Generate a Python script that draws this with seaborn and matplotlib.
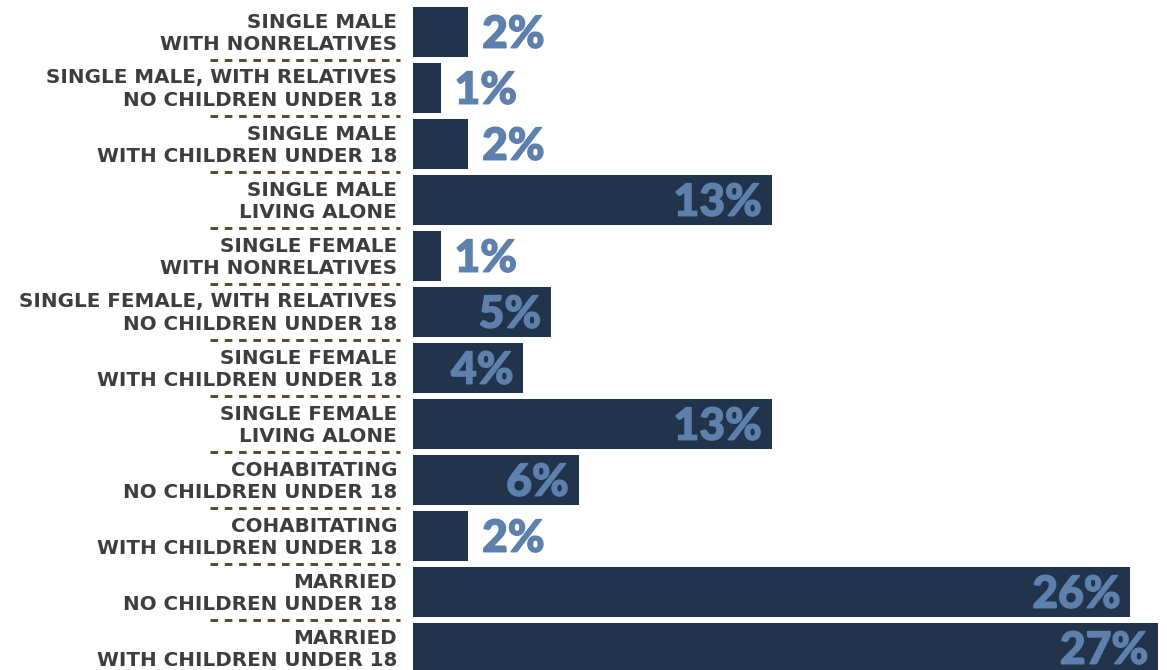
import matplotlib
matplotlib.use("Agg")
import matplotlib.pyplot as plt
import matplotlib.transforms as mtransforms
import matplotlib.patheffects as pe
import seaborn as sns
import pandas as pd

categories = [
    "SINGLE MALE\nWITH NONRELATIVES",
    "SINGLE MALE, WITH RELATIVES\nNO CHILDREN UNDER 18",
    "SINGLE MALE\nWITH CHILDREN UNDER 18",
    "SINGLE MALE\nLIVING ALONE",
    "SINGLE FEMALE\nWITH NONRELATIVES",
    "SINGLE FEMALE, WITH RELATIVES\nNO CHILDREN UNDER 18",
    "SINGLE FEMALE\nWITH CHILDREN UNDER 18",
    "SINGLE FEMALE\nLIVING ALONE",
    "COHABITATING\nNO CHILDREN UNDER 18",
    "COHABITATING\nWITH CHILDREN UNDER 18",
    "MARRIED\nNO CHILDREN UNDER 18",
    "MARRIED\nWITH CHILDREN UNDER 18",
]
values = [2, 1, 2, 13, 1, 5, 4, 13, 6, 2, 26, 27]

BAR = "#21344b"
VAL = "#5e80ad"
TXT = "#3d3d3d"
DASH = "#5b4531"

df = pd.DataFrame({"category": categories, "value": values})

sns.set_theme(style="white")
W, H = 1167, 670
fig = plt.figure(figsize=(W / 100, H / 100), dpi=100)
left_px, right_px = 413, 1158
ax = fig.add_axes([left_px / W, 0, (right_px - left_px) / W, 1])

sns.barplot(data=df, x="value", y="category", orient="h", color=BAR,
            saturation=1, width=50 / 56, ax=ax, edgecolor="none")

ax.set_xlim(0, 27)
ax.set_ylim((H - 32) / 56, -32 / 56)
ax.set_xlabel("")
ax.set_ylabel("")
ax.set_xticks([])
for s in ax.spines.values():
    s.set_visible(False)
ax.tick_params(axis="y", length=0, pad=11.5)
ax.set_yticks(range(len(categories)))
ax.set_yticklabels(categories, fontsize=14.3, fontweight="bold", color=TXT,
                   family="DejaVu Sans", linespacing=1.2)
shift = mtransforms.ScaledTranslation(0, 2.5 / 100, fig.dpi_scale_trans)
for lab in ax.get_yticklabels():
    lab.set_transform(lab.get_transform() + shift)

# dashed separators
blend = mtransforms.blended_transform_factory(fig.transFigure, ax.transData)
for i in range(len(categories) - 1):
    ax.plot([210 / W, 400 / W], [i + 0.5, i + 0.5], transform=blend,
            color=DASH, lw=2.1, dashes=(2.6, 2.3), clip_on=False)

# value labels
heavy = [pe.withStroke(linewidth=1.0, foreground=VAL)]
for i, v in enumerate(values):
    if v >= 4:
        off, ha = (-7, -2), "right"
    else:
        off, ha = (10, -2), "left"
    ax.annotate(f"{v}%", xy=(v, i), xytext=off, textcoords="offset points",
                ha=ha, va="center", fontsize=32, fontweight="black",
                color=VAL, family="Lato", path_effects=heavy)

fig.savefig("out.png", dpi=100)
